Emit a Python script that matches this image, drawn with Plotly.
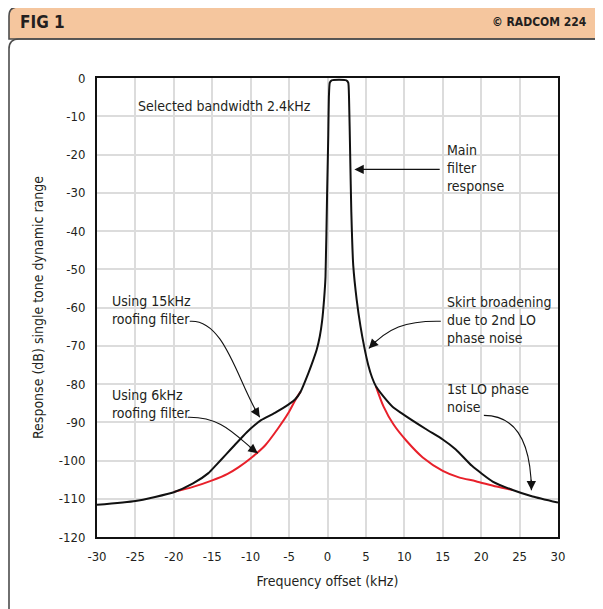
import plotly.graph_objects as go

# ---------------- data ----------------
black_x = [-30, -25, -20, -17.5, -15.5, -14.5, -13.2, -12.1, -10.5, -9.5, -8.6, -6.9, -5.1, -4.2, -3.5, -2.5,
           -1.85, -1.4, -1.0, -0.7, -0.45, -0.26, -0.05, 0.1, 0.18, 0.3, 0.55,
           2.45, 2.7, 2.8, 2.95, 3.1, 3.35, 3.8, 4.3, 4.8, 5.3, 5.8, 6.3, 7.3, 8.5, 9.9, 12.9,
           15.0, 16.7, 18.8, 21.5, 24.1, 26.7, 30]
black_y = [-111.6, -110.6, -108.3, -106.0, -103.3, -101.2, -98.4, -96.0, -92.6, -90.8, -89.4, -87.6, -85.4, -84.0, -82.0, -77.2,
           -73.7, -71.0, -67.5, -63.5, -58.0, -52.0, -30.0, -15.0, -5.0, -1.2, -0.6,
           -0.6, -1.2, -5.0, -20.0, -35.0, -49.0, -58.0, -65.0, -70.5, -75.0, -78.3, -80.6, -83.3, -86.0, -88.0, -91.9,
           -94.5, -97.1, -101.4, -105.5, -107.7, -109.4, -111.0]

red_left_x = [-20, -17.5, -15, -13, -11.6, -9.87, -8.1, -6.4, -5.1, -4.05, -3.5]
red_left_y = [-108.2, -106.9, -105.2, -103.5, -101.8, -99.2, -96.0, -91.5, -87.6, -83.7, -82.0]
red_right_x = [6.3, 7.3, 8.6, 10.3, 12.4, 15.0, 17.1, 19.3, 22.0, 24.1]
red_right_y = [-80.6, -85.9, -90.6, -94.9, -99.2, -102.7, -104.4, -105.4, -106.8, -107.7]

x_ticks = [-30, -25, -20, -15, -10, -5, 0, 5, 10, 15, 20, 25, 30]
y_ticks = [0, -10, -20, -30, -40, -50, -60, -70, -80, -90, -100, -110, -120]

# ---------------- layout geometry (page pixels; page body has an 8px margin) ----------------
OFF = 8
W, H = 603 - OFF, 609 - OFF
L, R, T, B = 97, 558, 78, 537          # plot area in page pixels
FONT = "Liberation Sans Narrow, DejaVu Sans Condensed, Arial Narrow, sans-serif"
TXT = "#231f20"

def px(x):
    return (x - L) / (R - L)

def py(y):
    return (B - y) / (B - T)

fig = go.Figure()

fig.add_trace(go.Scatter(x=red_left_x, y=red_left_y, mode="lines",
                         line=dict(color="#e8202a", width=2, shape="spline", smoothing=0.8),
                         hoverinfo="skip", showlegend=False))
fig.add_trace(go.Scatter(x=red_right_x, y=red_right_y, mode="lines",
                         line=dict(color="#e8202a", width=2, shape="spline", smoothing=0.8),
                         hoverinfo="skip", showlegend=False))
fig.add_trace(go.Scatter(x=black_x, y=black_y, mode="lines",
                         line=dict(color="#111111", width=2, shape="spline", smoothing=0.5),
                         hoverinfo="skip", showlegend=False))

shapes = []
LX = OFF + 1
hdr = (f"M {px(LX)},{py(39)} L {px(LX)},{py(16)} Q {px(LX)},{py(7)} {px(LX + 9)},{py(7)} "
       f"L {px(615)},{py(7)} L {px(615)},{py(39)} Z")
shapes.append(dict(type="path", xref="paper", yref="paper", path=hdr,
                   fillcolor="#f5c69e", line=dict(color="#4d4d4d", width=1.6), layer="below"))
panel = (f"M {px(LX)},{py(620)} L {px(LX)},{py(49)} Q {px(LX)},{py(39)} {px(LX + 10)},{py(39)} "
         f"L {px(615)},{py(39)}")
shapes.append(dict(type="path", xref="paper", yref="paper", path=panel,
                   fillcolor="rgba(0,0,0,0)", line=dict(color="#4d4d4d", width=1.6), layer="above"))

# curved callout arrows (data coordinates): start, c1, c2, end
callouts = [
    [(14.75, -63.6), (10.06, -63.4), (7.85, -65.5), (5.38, -70.7)],
    [(20.35, -88.2), (24.39, -88.2), (26.47, -94.7), (26.54, -107.8)],
    [(-17.93, -63.6), (-13.37, -62.9), (-11.68, -79.6), (-8.82, -88.7)],
    [(-18.19, -88.7), (-13.63, -88.5), (-11.94, -93.7), (-9.08, -98.1)],
]
XS = (R - L) / 60.0
YS = (B - T) / 120.0
annotations = []
for (s, c1, c2, e) in callouts:
    shapes.append(dict(type="path", xref="x", yref="y",
                       path=f"M {s[0]},{s[1]} C {c1[0]},{c1[1]} {c2[0]},{c2[1]} {e[0]},{e[1]}",
                       line=dict(color="#111111", width=1.1), layer="above"))
    dx = (c2[0] - e[0]) * XS
    dy = -(c2[1] - e[1]) * YS
    n = (dx * dx + dy * dy) ** 0.5
    annotations.append(dict(x=e[0], y=e[1], xref="x", yref="y", text="", showarrow=True,
                            ax=dx / n * 12, ay=dy / n * 12, arrowhead=2, arrowsize=1.7,
                            arrowwidth=1.1, arrowcolor="#111111", standoff=0))

# straight arrow for main filter
annotations.append(dict(x=3.5, y=-23.9, xref="x", yref="y", ax=14.8, ay=-23.9, axref="x", ayref="y",
                        text="", showarrow=True, arrowhead=2, arrowsize=1.7, arrowwidth=1.1,
                        arrowcolor="#111111", standoff=0))

def label(x, y, text, size=14):
    annotations.append(dict(x=x, y=y, xref="x", yref="y", text=text, showarrow=False,
                            xanchor="left", yanchor="middle", align="left",
                            font=dict(family=FONT, size=size, color=TXT)))

label(-24.9, -7.4, "Selected bandwidth 2.4kHz")
label(15.3, -23.4, "Main<br>filter<br>response")
label(15.3, -63.3, "Skirt broadening<br>due to 2nd LO<br>phase noise")
label(15.3, -83.7, "1st LO phase<br>noise")
label(-28.3, -60.6, "Using 15kHz<br>roofing filter")
label(-28.3, -85.3, "Using 6kHz<br>roofing filter")

# header texts
annotations.append(dict(x=px(18), y=py(22), xref="paper", yref="paper", text="<b>FIG 1</b>",
                        showarrow=False, xanchor="left", yanchor="middle",
                        font=dict(family=FONT, size=17, color=TXT)))
annotations.append(dict(x=px(589), y=py(22), xref="paper", yref="paper", text="<b>© RADCOM 224</b>",
                        showarrow=False, xanchor="right", yanchor="middle",
                        font=dict(family=FONT, size=12, color=TXT)))

fig.update_layout(
    width=W, height=H,
    margin=dict(l=L - OFF, r=W - (R - OFF), t=T - OFF, b=H - (B - OFF)),
    paper_bgcolor="white", plot_bgcolor="white",
    shapes=shapes, annotations=annotations,
    font=dict(family=FONT, size=14, color=TXT),
    showlegend=False,
)
fig.update_xaxes(range=[-30, 30], tickvals=x_ticks, ticktext=[str(v) for v in x_ticks],
                 showgrid=True, gridcolor="#dcdcdc", gridwidth=2, zeroline=False,
                 showline=True, linecolor="#111111", linewidth=2, mirror=True,
                 ticks="", ticklabelstandoff=6, tickfont=dict(size=13),
                 title=dict(text="Frequency offset (kHz)", standoff=14,
                            font=dict(family=FONT, size=14, color=TXT)))
fig.update_yaxes(range=[-120, 0], tickvals=y_ticks, ticktext=[str(v) for v in y_ticks],
                 showgrid=True, gridcolor="#dcdcdc", gridwidth=2, zeroline=False,
                 showline=True, linecolor="#111111", linewidth=2, mirror=True,
                 ticks="", ticklabelstandoff=7, tickfont=dict(size=13),
                 title=dict(text="Response (dB) single tone dynamic range", standoff=12,
                            font=dict(family=FONT, size=14, color=TXT)))

fig.write_html("out.html")
